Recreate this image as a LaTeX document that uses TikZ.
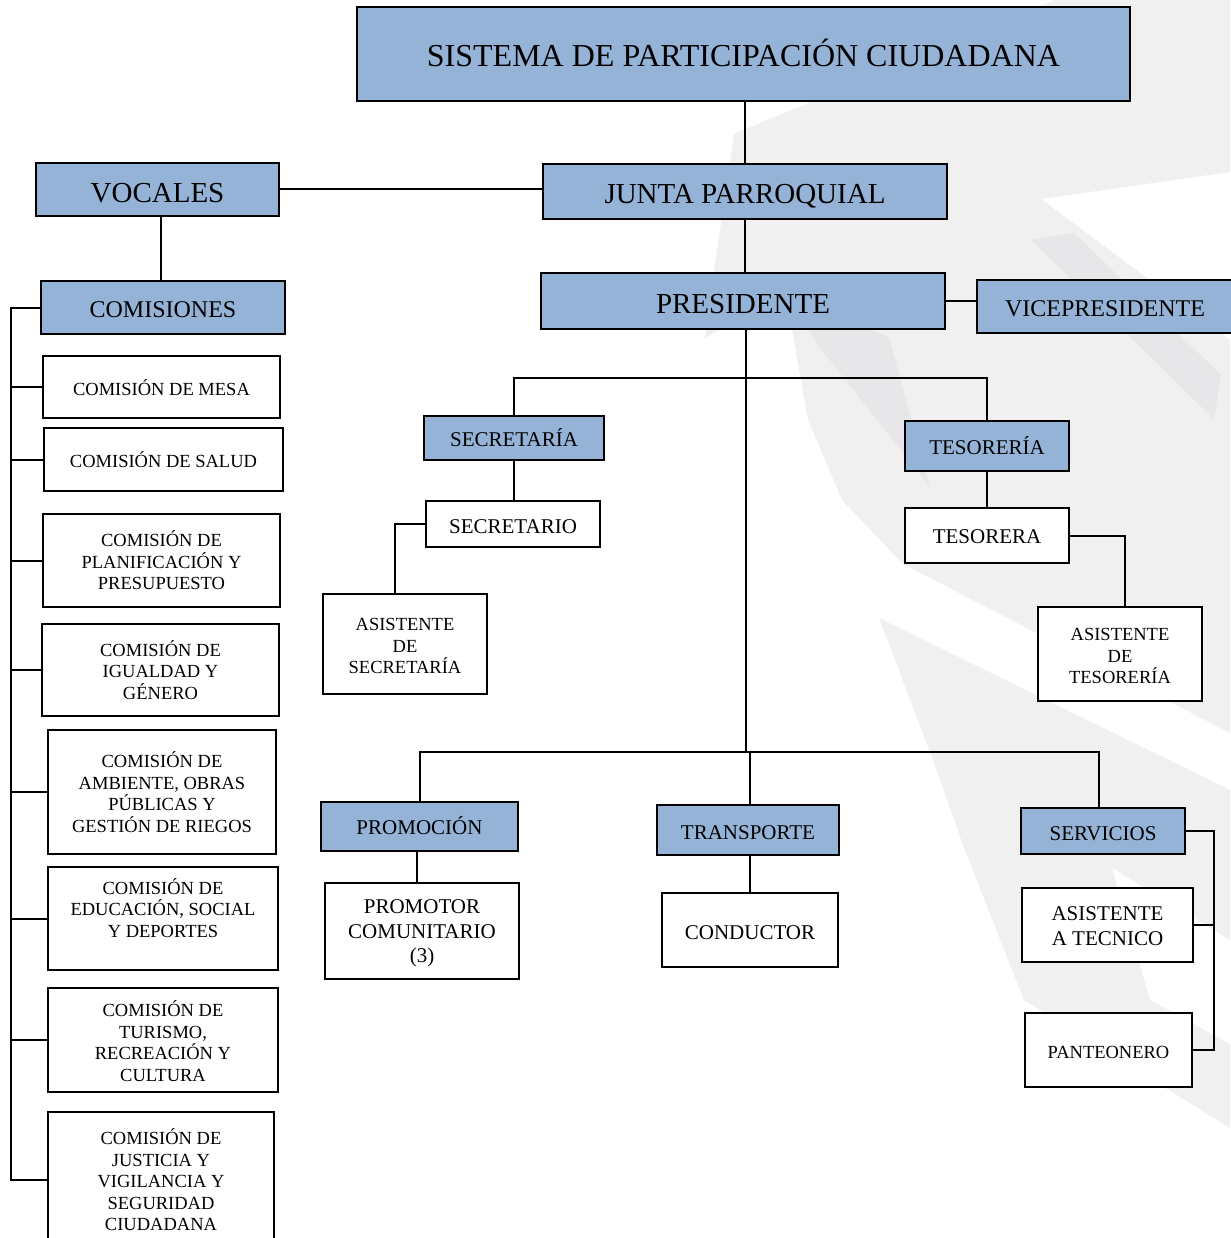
\documentclass[tikz,border=0pt]{standalone}
\usepackage{fontspec}
\setmainfont{Liberation Serif}
\definecolor{boxblue}{HTML}{95B3D7}
\definecolor{wmA}{HTML}{F0F0F0}
\definecolor{wmB}{HTML}{E7E7E9}
\begin{document}
\begin{tikzpicture}[x=1pt,y=-1pt,
  box/.style n args={2}{draw=black, line width=2pt, align=center, inner sep=0pt,
     minimum width=#1, minimum height=#2, fill=white},
  blue/.style={fill=boxblue},
  th/.style={text height=#1, text depth=0pt},
  fxl/.style={font=\fontsize{32}{36}\selectfont},
  fl/.style={font=\fontsize{29}{33}\selectfont},
  fm/.style={font=\fontsize{24}{27}\selectfont},
  fs/.style={font=\fontsize{21}{24.5}\selectfont},
  fxs/.style={font=\fontsize{18.5}{21.5}\selectfont},
  conn/.style={draw=black, line width=2pt}]
\useasboundingbox (0,0) rectangle (1230,1238);
% watermark
\fill[wmA] (734,134) -- (1055,0) -- (1230,0) -- (1230,172) -- (1041,199) -- (1230,340)
  -- (1230,733) -- (903,564) -- (842,500) -- (808,420) -- (785,289) -- (705,338) -- (715,264) -- cycle;
\fill[wmB] (785,289) -- (889,338) -- (930,487) -- (818,345) -- cycle;
\fill[wmB] (1031,240) -- (1074,233) -- (1221,375) -- (1214,419) -- cycle;
\fill[wmA] (879,618) -- (1230,790) -- (1230,940) -- (1112,868) -- (1150,1000) -- (1230,1044)
  -- (1230,1128) -- (1024,1000) -- (964,848) -- (933,760) -- cycle;
% top
\node[box={773}{94}, blue, fxl, th=25.8pt] (title) at (743.5,54) {SISTEMA DE PARTICIPACIÓN CIUDADANA};
\node[box={243}{53}, blue, fl, th=25.5pt] (vocales) at (157.5,189.5) {VOCALES};
\node[box={404}{55}, blue, fl, th=24.5pt] (junta) at (745,191.5) {JUNTA PARROQUIAL};
\node[box={404}{56}, blue, fl, th=24pt] (pres) at (743,301) {PRESIDENTE};
\node[box={256}{53}, blue, fm, th=20pt] (vice) at (1105,306.5) {VICEPRESIDENTE};
% left column
\node[box={244}{53}, blue, fm, th=20pt] (comis) at (163,307.5) {COMISIONES};
\node[box={237}{62}, fxs, th=16pt] (mesa) at (161.5,387) {COMISIÓN DE MESA};
\node[box={239}{63}, fxs, th=15pt] (salud) at (163.5,459.5) {COMISIÓN DE SALUD};
\node[box={237}{93}, fxs] (plan) at (161.5,560.5) {COMISIÓN DE\\PLANIFICACIÓN Y\\PRESUPUESTO};
\node[box={237}{92}, fxs] (igual) at (160.5,670) {COMISIÓN DE\\IGUALDAD Y\\GÉNERO};
\node[box={228}{124}, fxs] (amb) at (162,792) {COMISIÓN DE\\AMBIENTE, OBRAS\\PÚBLICAS Y\\GESTIÓN DE RIEGOS};
\node[box={230}{103}, fxs] (edu) at (163,918.5) {COMISIÓN DE\\EDUCACIÓN, SOCIAL\\Y DEPORTES\\\mbox{}};
\node[box={230}{104}, fxs] (tur) at (163,1040) {\rule{0pt}{18pt}COMISIÓN DE\\TURISMO,\\RECREACIÓN Y\\CULTURA};
\node[box={226}{136}, fxs] (just) at (161,1180) {COMISIÓN DE\\JUSTICIA Y\\VIGILANCIA Y\\SEGURIDAD\\CIUDADANA};
% middle
\node[box={180}{44}, blue, fs, th=17.5pt] (secria) at (514,438) {SECRETARÍA};
\node[box={174}{46}, fs, th=18pt] (secrio) at (513,524) {SECRETARIO};
\node[box={164}{100}, fxs] (asec) at (405,644) {\rule{0pt}{16.2pt}ASISTENTE\\DE\\SECRETARÍA};
\node[box={164}{50}, blue, fs, th=16pt] (tesria) at (987,446) {TESORERÍA};
\node[box={164}{55}, fs, th=16pt] (tesra) at (987,535.5) {TESORERA};
\node[box={164}{94}, fxs] (ates) at (1120,654) {\rule{0pt}{16.2pt}ASISTENTE\\DE\\TESORERÍA};
% bottom
\node[box={197}{49}, blue, fs, th=16pt] (promo) at (419.5,826.5) {PROMOCIÓN};
\node[box={194}{96}, fs] (promotor) at (422,931) {\rule{0pt}{19pt}PROMOTOR\\COMUNITARIO\\(3)};
\node[box={182}{50}, blue, fs, th=18pt] (transp) at (748,830) {TRANSPORTE};
\node[box={176}{74}, fs, th=18pt] (cond) at (750,930) {CONDUCTOR};
\node[box={164}{46}, blue, fs, th=18pt] (serv) at (1103,831) {SERVICIOS};
\node[box={171}{74}, fs] (asist) at (1107.5,925) {\rule{0pt}{16pt}ASISTENTE\\A TECNICO};
\node[box={167}{74}, fxs, th=16pt] (pant) at (1108.5,1050) {PANTEONERO};
% coordinates
\coordinate (b1) at (514,378);
\coordinate (bus2) at (746,752);
\coordinate (sbus) at (1214,832);
\coordinate (lbus) at (11,309);
% connectors
\draw[conn] (junta.north) -- (junta.north |- title.south);
\draw[conn] (vocales.east) -- (vocales.east -| junta.west);
\draw[conn] ([xshift=-2pt]comis.north) -- ([xshift=-2pt]comis.north |- vocales.south);
\draw[conn] (junta.south) -- (junta.south |- pres.north);
\draw[conn] (pres.east) -- (pres.east -| vice.west);
\draw[conn] ([xshift=3pt]pres.south) -- ([xshift=3pt]pres.south |- bus2);
\draw[conn] (secria.north) -- (secria.north |- b1) -- (tesria.north |- b1) -- (tesria.north);
\draw[conn] (secria.south) -- (secria.south |- secrio.north);
\draw[conn] (secrio.west) -| ([xshift=-10pt]asec.north);
\draw[conn] (tesria.south) -- (tesra.north);
\draw[conn] (tesra.east) -| ([xshift=5pt]ates.north);
\draw[conn] ([xshift=0.5pt]promo.north) -- ([xshift=0.5pt]promo.north |- bus2) -- ([xshift=-4pt]serv.north |- bus2) -- ([xshift=-4pt]serv.north);
\draw[conn] ([xshift=2pt]transp.north) -- ([xshift=2pt]transp.north |- bus2);
\draw[conn] ([xshift=-2.5pt]promo.south) -- ([xshift=-2.5pt]promo.south |- promotor.north);
\draw[conn] ([xshift=2pt]transp.south) -- ([xshift=2pt]transp.south |- cond.north);
\draw[conn] (serv.east) -- (serv.east -| sbus) |- (pant.east);
\draw[conn] (asist.east) -- (asist.east -| sbus);
\draw[conn] (comis.west) -| (lbus |- just.west) -- (just.west);
\foreach \n in {mesa,salud,plan,igual,amb,edu,tur}
  \draw[conn] (\n.west) -- (\n.west -| lbus);
\end{tikzpicture}
\end{document}
